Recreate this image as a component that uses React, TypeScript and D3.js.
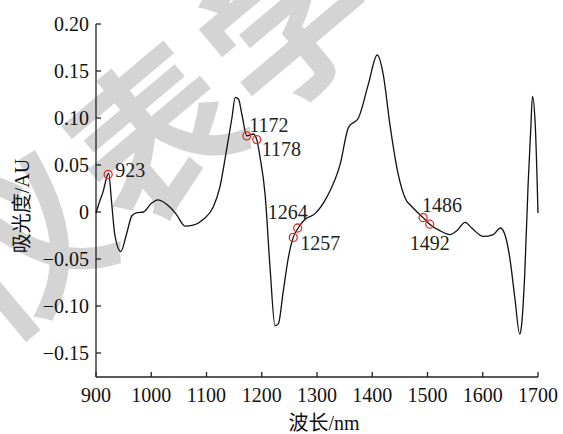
import React from "react";
import * as d3 from "d3";

const wavelengths = [
  900, 907, 913, 920, 923, 928, 934, 945, 955, 965, 973, 986, 1000, 1012, 1034, 1046, 1061, 1076, 1094, 1112,
  1124, 1136, 1146, 1152, 1158, 1164, 1173, 1185, 1191, 1197, 1206, 1215, 1224, 1230, 1239, 1248, 1257, 1266,
  1278, 1296, 1317, 1342, 1357, 1375, 1393, 1409, 1420, 1432, 1447, 1462, 1468, 1483, 1492, 1504, 1523, 1541,
  1553, 1568, 1580, 1601, 1619, 1632, 1640, 1649, 1658, 1667, 1670, 1676, 1682, 1687, 1690, 1695, 1700,
];
const absorbance = [
  -0.001, 0.012, 0.022, 0.038, 0.041, 0.012, -0.024, -0.042, -0.024, -0.004, -0.001, 0.0, 0.009, 0.013, 0.005,
  -0.003, -0.015, -0.014, -0.008, 0.005, 0.026, 0.065, 0.1, 0.122, 0.12, 0.104, 0.081, 0.083, 0.077, 0.058,
  0.019, -0.059, -0.121, -0.119, -0.084, -0.049, -0.027, -0.017, -0.008, -0.002, 0.015, 0.051, 0.09, 0.1,
  0.136, 0.167, 0.146, 0.093, 0.04, 0.012, 0.008, -0.001, -0.006, -0.013, -0.02, -0.024, -0.02, -0.011, -0.017,
  -0.026, -0.024, -0.017, -0.024, -0.049, -0.091, -0.13, -0.122, -0.066, 0.028, 0.09, 0.123, 0.093, -0.001,
];

const xTicks = [900, 1000, 1100, 1200, 1300, 1400, 1500, 1600, 1700];
const yTicks = [0.2, 0.15, 0.1, 0.05, 0, -0.05, -0.1, -0.15];
const yTickLabels = ["0.20", "0.15", "0.10", "0.05", "0", "\u22120.05", "\u22120.10", "\u22120.15"];

const markLabels = ["923", "1172", "1178", "1264", "1257", "1486", "1492"];
const markX = [922, 1173, 1191, 1265, 1257, 1492, 1504];
const markY = [0.04, 0.081, 0.077, -0.017, -0.027, -0.006, -0.013];

// label placement offsets (px) relative to marker centre
const labelDx = [7, 2.5, 5, -30, 7, -1, -20];
const labelDy = [3, -4, 16, -9, 13, -6, 26];

const watermark = "仪表学";

export default function App() {
  const W = 563;
  const H = 434;
  const x = d3.scaleLinear().domain([900, 1700]).range([96, 538]);
  const y = d3.scaleLinear().domain([0.2, -0.15]).range([24, 353]);
  const yBottom = 377;

  const pts: [number, number][] = wavelengths.map((w, i) => [w, absorbance[i]]);
  const line = d3
    .line<[number, number]>()
    .x((d) => x(d[0]))
    .y((d) => y(d[1]))
    .curve(d3.curveMonotoneX);

  const serif = "Liberation Serif, Times New Roman, Times, serif";
  const cjk = "Noto Sans CJK SC, sans-serif";

  return (
    <svg
      width={W}
      height={H}
      style={{ position: "absolute", left: 0, top: 0, background: "#fff" }}
    >
      <g
        transform="translate(160,135) rotate(-40)"
        fill="#d4d4d4"
        fontFamily={cjk}
        fontWeight={700}
        fontSize={165}
      >
        <text x={0} y={58} textAnchor="middle" letterSpacing={8}>
          {watermark}
        </text>
      </g>

      {/* axes */}
      <line x1={96} y1={24} x2={96} y2={yBottom} stroke="#222" strokeWidth={1.3} />
      <line x1={96} y1={yBottom} x2={538} y2={yBottom} stroke="#222" strokeWidth={1.3} />
      {yTicks.map((t, i) => (
        <g key={"yt" + i}>
          <line x1={96} x2={101} y1={y(t)} y2={y(t)} stroke="#222" strokeWidth={1.3} />
          <text
            x={89}
            y={y(t)}
            dy="0.35em"
            textAnchor="end"
            style={{ fontFamily: serif }}
            fontSize={20}
            fill="#111"
          >
            {yTickLabels[i]}
          </text>
        </g>
      ))}
      {xTicks.map((t, i) => (
        <g key={"xt" + i}>
          <line x1={x(t)} x2={x(t)} y1={yBottom} y2={yBottom - 5} stroke="#222" strokeWidth={1.3} />
          <text
            x={x(t)}
            y={402}
            textAnchor="middle"
            style={{ fontFamily: serif }}
            fontSize={20}
            fill="#111"
          >
            {t}
          </text>
        </g>
      ))}

      <text x={324} y={430} textAnchor="middle" fontSize={20} fill="#111">
        <tspan style={{ fontFamily: cjk }}>波长</tspan>
        <tspan style={{ fontFamily: serif }}>/nm</tspan>
      </text>
      <text
        transform="translate(29,206) rotate(-90)"
        textAnchor="middle"
        fontSize={20}
        fill="#111"
      >
        <tspan style={{ fontFamily: cjk }}>吸光度</tspan>
        <tspan style={{ fontFamily: serif }}>/AU</tspan>
      </text>

      <path d={line(pts) || ""} fill="none" stroke="#111" strokeWidth={1.3} strokeLinejoin="round" />

      {markLabels.map((lab, i) => (
        <g key={"m" + i}>
          <circle cx={x(markX[i])} cy={y(markY[i])} r={4} fill="none" stroke="#e0302a" strokeWidth={1.3} />
          <text
            x={x(markX[i]) + labelDx[i]}
            y={y(markY[i]) + labelDy[i]}
            style={{ fontFamily: serif }}
            fontSize={20}
            fill="#222"
          >
            {lab}
          </text>
        </g>
      ))}
    </svg>
  );
}
